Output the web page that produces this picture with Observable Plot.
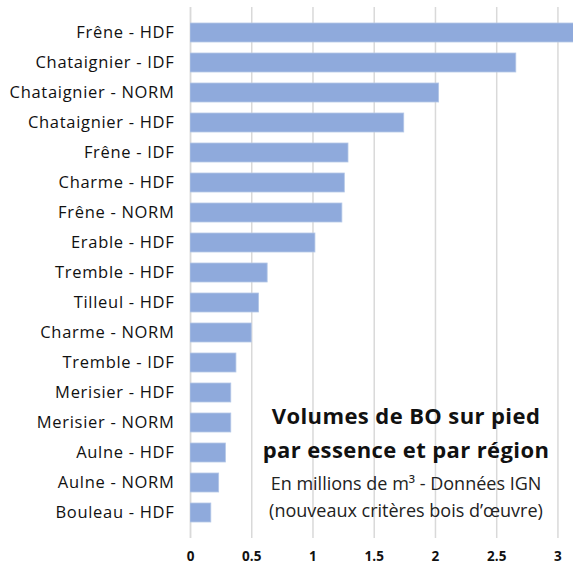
<!DOCTYPE html>
<html>
<head>
<meta charset="utf-8">
<script src="https://cdn.jsdelivr.net/npm/d3@7"></script>
<script src="https://cdn.jsdelivr.net/npm/@observablehq/plot@0.6"></script>
<style>
  html, body { margin: 0; padding: 0; background: #fff; }
  #wrap { position: relative; width: 573px; height: 564px; overflow: hidden; }
  #title { position: absolute; left: 246px; width: 320px; top: 397.5px; text-align: center; font-family: "Open Sans", sans-serif; color: #111; }
  #title .t { font-weight: 700; font-size: 22px; line-height: 34px; letter-spacing: 0.4px; }
  #title .s { font-size: 18px; line-height: 27px; color: #222; margin-top: 4px; }
  #chart g[aria-label="y-axis tick label"] text { letter-spacing: 0.7px; }
</style>
</head>
<body>
<div id="wrap">
  <div id="chart"></div>
  <div id="title">
    <div class="t">Volumes de BO sur pied<br>par essence et par région</div>
    <div class="s">En millions de m³ - Données IGN<br>(nouveaux critères bois d’œuvre)</div>
  </div>
</div>
<script>
const categories = [
  "Frêne - HDF", "Chataignier - IDF", "Chataignier - NORM", "Chataignier - HDF",
  "Frêne - IDF", "Charme - HDF", "Frêne - NORM", "Erable - HDF",
  "Tremble - HDF", "Tilleul - HDF", "Charme - NORM", "Tremble - IDF",
  "Merisier - HDF", "Merisier - NORM", "Aulne - HDF", "Aulne - NORM", "Bouleau - HDF"
];
const volumes = [3.2, 2.66, 2.03, 1.745, 1.29, 1.26, 1.24, 1.02, 0.63, 0.56, 0.50, 0.375, 0.333, 0.333, 0.289, 0.234, 0.17];
const xTicks = [0, 0.5, 1, 1.5, 2, 2.5, 3];

const data = categories.map((c, i) => ({ cat: c, v: volumes[i] }));

const chart = Plot.plot({
  width: 573,
  height: 564,
  marginLeft: 190,
  marginRight: 0,
  marginTop: 7,
  marginBottom: 26,
  style: { fontFamily: "'Open Sans', sans-serif", background: "#fff" },
  x: { domain: [0, 3.127], ticks: xTicks, label: null },
  y: { domain: categories, padding: 0.36, label: null },
  marks: [
    Plot.gridX(xTicks, { stroke: "#d9d9d9", strokeOpacity: 1, strokeWidth: 1.5 }),
    Plot.ruleX([0], { stroke: "#d9d9d9", strokeWidth: 1.5 }),
    Plot.barX(data, { x: "v", y: "cat", fill: "#8faadc", stroke: "#b4c7e7", strokeWidth: 0.8, clip: true }),
    Plot.axisX(xTicks, { tickSize: 0, tickPadding: 13, tickFormat: d => String(d), fontWeight: "bold", fontSize: 13.5, fill: "#111", label: null }),
    Plot.axisY({ tickSize: 0, tickPadding: 16, fontSize: 16.5, fill: "#111", label: null })
  ]
});
document.getElementById("chart").appendChild(chart);
</script>
</body>
</html>
